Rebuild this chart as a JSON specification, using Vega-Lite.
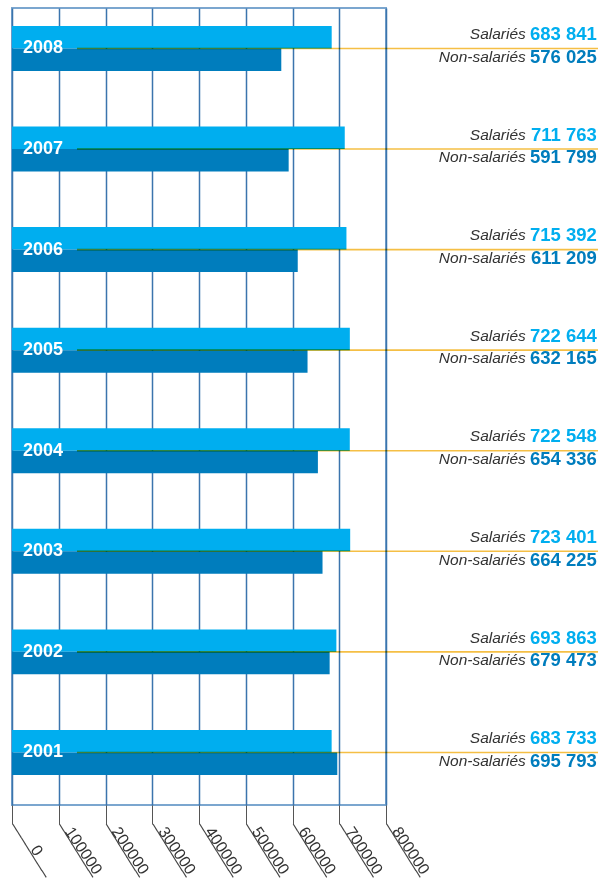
{
  "$schema": "https://vega.github.io/schema/vega-lite/v6.json",
  "autosize": {"type": "none"},
  "width": 374,
  "height": 797,
  "padding": {"left": 12, "top": 8, "right": 212, "bottom": 76},
  "background": "white",
  "config": {
    "locale": {"number": {"decimal": ",", "thousands": " ", "grouping": [3], "currency": ["", " €"]}},
    "view": {"stroke": "#7ba6cf", "strokeWidth": 2},
    "font": "Liberation Sans"
  },
  "resolve": {"scale": {"x": "shared"}, "axis": {"x": "independent"}},
  "data": {
    "values": [
      {"year": "2008", "series": "Salariés", "value": 683841},
      {"year": "2008", "series": "Non-salariés", "value": 576025},
      {"year": "2007", "series": "Salariés", "value": 711763},
      {"year": "2007", "series": "Non-salariés", "value": 591799},
      {"year": "2006", "series": "Salariés", "value": 715392},
      {"year": "2006", "series": "Non-salariés", "value": 611209},
      {"year": "2005", "series": "Salariés", "value": 722644},
      {"year": "2005", "series": "Non-salariés", "value": 632165},
      {"year": "2004", "series": "Salariés", "value": 722548},
      {"year": "2004", "series": "Non-salariés", "value": 654336},
      {"year": "2003", "series": "Salariés", "value": 723401},
      {"year": "2003", "series": "Non-salariés", "value": 664225},
      {"year": "2002", "series": "Salariés", "value": 693863},
      {"year": "2002", "series": "Non-salariés", "value": 679473},
      {"year": "2001", "series": "Salariés", "value": 683733},
      {"year": "2001", "series": "Non-salariés", "value": 695793}
    ]
  },
  "encoding": {
    "y": {
      "field": "year", "type": "nominal",
      "sort": ["2008", "2007", "2006", "2005", "2004", "2003", "2002", "2001"],
      "scale": {"paddingInner": 0.553, "paddingOuter": 0.239, "align": 0.374},
      "axis": null
    }
  },
  "layer": [
    {
      "mark": {"type": "point", "opacity": 0},
      "encoding": {
        "x": {
          "field": "value", "type": "quantitative",
          "scale": {"domain": [0, 800000], "nice": false, "zero": true},
          "axis": {
            "orient": "bottom",
            "title": null,
            "values": [0, 100000, 200000, 300000, 400000, 500000, 600000, 700000, 800000],
            "labelExpr": "'────────'",
            "grid": false,
            "domain": false,
            "ticks": false,
            "labelAngle": 58,
            "labelAlign": "left",
            "labelBaseline": "middle",
            "labelPadding": 19,
            "labelFontSize": 13,
            "labelColor": "#444444",
            "labelFont": "DejaVu Sans",
            "labelOverlap": false,
            "labelFlush": false,
            "labelBound": false
          }
        }
      }
    },
    {
      "mark": {"type": "bar"},
      "encoding": {
        "x": {
          "field": "value", "type": "quantitative",
          "scale": {"domain": [0, 800000], "nice": false, "zero": true},
          "axis": {
            "orient": "bottom",
            "title": null,
            "values": [0, 100000, 200000, 300000, 400000, 500000, 600000, 700000, 800000],
            "format": "d",
            "grid": true,
            "gridColor": "#3b74ad",
            "gridWidth": 1.5,
            "domain": false,
            "ticks": true,
            "tickSize": 19,
            "tickColor": "#555555",
            "tickWidth": 1,
            "labelAngle": 56,
            "labelAlign": "center",
            "labelBaseline": "alphabetic",
            "labelOffset": 20,
            "labelPadding": 29,
            "labelFontSize": 16,
            "labelColor": "#333333",
            "labelFont": "Liberation Sans",
            "labelOverlap": false,
            "labelFlush": false
          }
        },
        "yOffset": {
          "field": "series", "type": "nominal",
          "sort": ["Salariés", "Non-salariés"],
          "scale": {"paddingInner": 0, "paddingOuter": 0}
        },
        "color": {
          "field": "series", "type": "nominal",
          "scale": {"domain": ["Salariés", "Non-salariés"], "range": ["#00aeef", "#007dbd"]},
          "legend": null
        }
      }
    },
    {
      "transform": [{"filter": "datum.series === 'Salariés'"}],
      "mark": {"type": "rule", "color": "#f5bf45", "strokeWidth": 1.6, "blend": "multiply"},
      "encoding": {
        "x": {"datum": 139000, "type": "quantitative", "axis": null},
        "x2": {"datum": 1260000}
      }
    },
    {
      "transform": [{"filter": "datum.series === 'Salariés'"}],
      "mark": {"type": "text", "align": "left", "baseline": "middle", "dx": 11, "fontSize": 18, "fontWeight": "bold", "color": "white", "font": "Liberation Sans"},
      "encoding": {
        "x": {"datum": 0, "type": "quantitative", "axis": null},
        "text": {"field": "year", "type": "nominal"}
      }
    },
    {
      "mark": {"type": "text", "align": "right", "baseline": "middle", "dx": -71, "dy": -3, "fontSize": 15.5, "fontStyle": "italic", "color": "#333333", "font": "Liberation Sans"},
      "encoding": {
        "x": {"datum": 1251000, "type": "quantitative", "axis": null},
        "yOffset": {"field": "series", "type": "nominal", "sort": ["Salariés", "Non-salariés"]},
        "text": {"field": "series", "type": "nominal"}
      }
    },
    {
      "mark": {"type": "text", "align": "right", "baseline": "middle", "dy": -3, "fontSize": 18.5, "fontWeight": "bold", "font": "Liberation Sans"},
      "encoding": {
        "x": {"datum": 1251000, "type": "quantitative", "axis": null},
        "yOffset": {"field": "series", "type": "nominal", "sort": ["Salariés", "Non-salariés"]},
        "color": {"field": "series", "type": "nominal", "legend": null},
        "text": {"field": "value", "type": "quantitative", "format": ",d"}
      }
    }
  ]
}
